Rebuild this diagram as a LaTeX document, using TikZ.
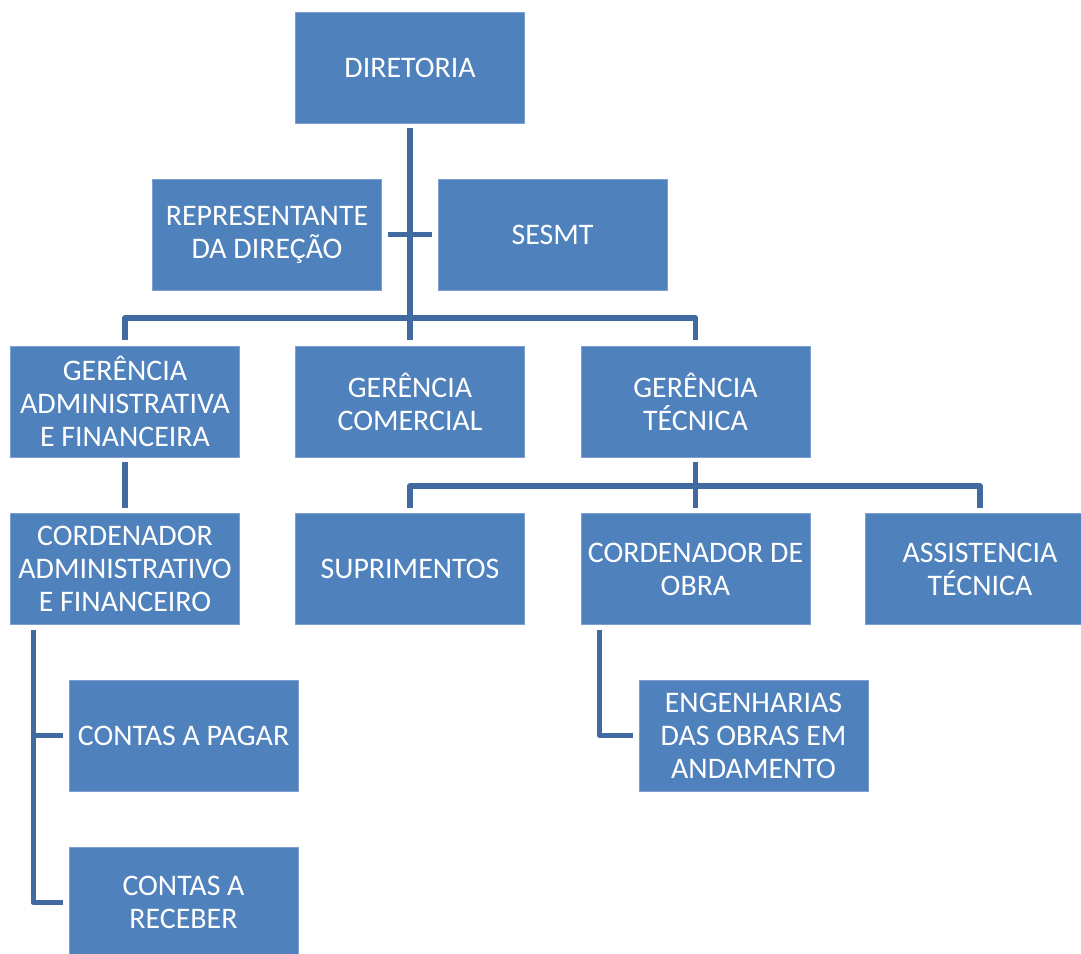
\documentclass[tikz,border=0pt]{standalone}
\usepackage{fontspec}
\setmainfont{Carlito}
\usetikzlibrary{calc}
\definecolor{boxfill}{RGB}{79,129,189}
\definecolor{boxedge}{RGB}{125,160,208}
\definecolor{linecol}{RGB}{65,106,160}
\tikzset{
  box/.style={rectangle, fill=boxfill, draw=boxedge, line width=0.6pt, text=white,
    minimum width={229*0.75pt}, minimum height={111*0.75pt}, align=center, inner sep=2pt,
    font=\fontsize{22.4}{24.8}\selectfont},
  conn/.style={draw=linecol, line width=3.8pt, line join=round}
}
\begin{document}
\begin{tikzpicture}[x=0.75pt,y=-0.75pt]
\useasboundingbox (0,0) rectangle (1081,953);
\fill[white] (0,0) rectangle (1081,953);
\node[box] (dir) at (410,67.5) {DIRETORIA};
\node[box] (rep) at (267,234.5) {REPRESENTANTE\\DA DIREÇÃO};
\node[box] (sesmt) at (552.5,234.5) {SESMT};
\node[box] (gaf) at (125,401.5) {GERÊNCIA\\ADMINISTRATIVA\\E FINANCEIRA};
\node[box] (gc) at (410,401.5) {GERÊNCIA\\COMERCIAL};
\node[box] (gt) at (695.5,401.5) {GERÊNCIA\\TÉCNICA};
\node[box] (caf) at (125,569) {CORDENADOR\\ADMINISTRATIVO\\E FINANCEIRO};
\node[box] (sup) at (410,569) {SUPRIMENTOS};
\node[box] (co) at (695.5,569) {CORDENADOR DE\\OBRA};
\node[box] (at) at (980,569) {ASSISTENCIA\\TÉCNICA};
\node[box] (cp) at (183.5,735.5) {CONTAS A PAGAR};
\node[box] (cr) at (183.5,902.5) {CONTAS A\\RECEBER};
\node[box] (eng) at (753.5,735.5) {ENGENHARIAS\\DAS OBRAS EM\\ANDAMENTO};
% connectors
\coordinate (j1) at (410,318);
\coordinate (j2) at (695,486);
\draw[conn] ($(dir.south)+(0,5)$) -- ($(gc.north)+(0,-6)$);
\draw[conn] ($(rep.east)+(6,0)$) -- ($(sesmt.west)+(-6,0)$);
\draw[conn] ($(gaf.north)+(0,-6)$) |- (j1) -| ($(gt.north)+(0,-6)$);
\draw[conn] ($(gaf.south)+(0,5)$) -- ($(caf.north)+(0,-5)$);
\draw[conn] ($(gt.south)+(0,5)$) -- ($(co.north)+(0,-5)$);
\draw[conn] ($(sup.north)+(0,-5)$) |- (j2) -| ($(at.north)+(0,-5)$);
\coordinate (k1) at ($(caf.south west)+(23,5)$);
\draw[conn] (k1) |- ($(cr.west)+(-6,0)$);
\draw[conn] (k1 |- cp.west) -- ($(cp.west)+(-6,0)$);
\coordinate (k2) at ($(co.south west)+(19,5)$);
\draw[conn] (k2) |- ($(eng.west)+(-6,0)$);
\end{tikzpicture}
\end{document}
